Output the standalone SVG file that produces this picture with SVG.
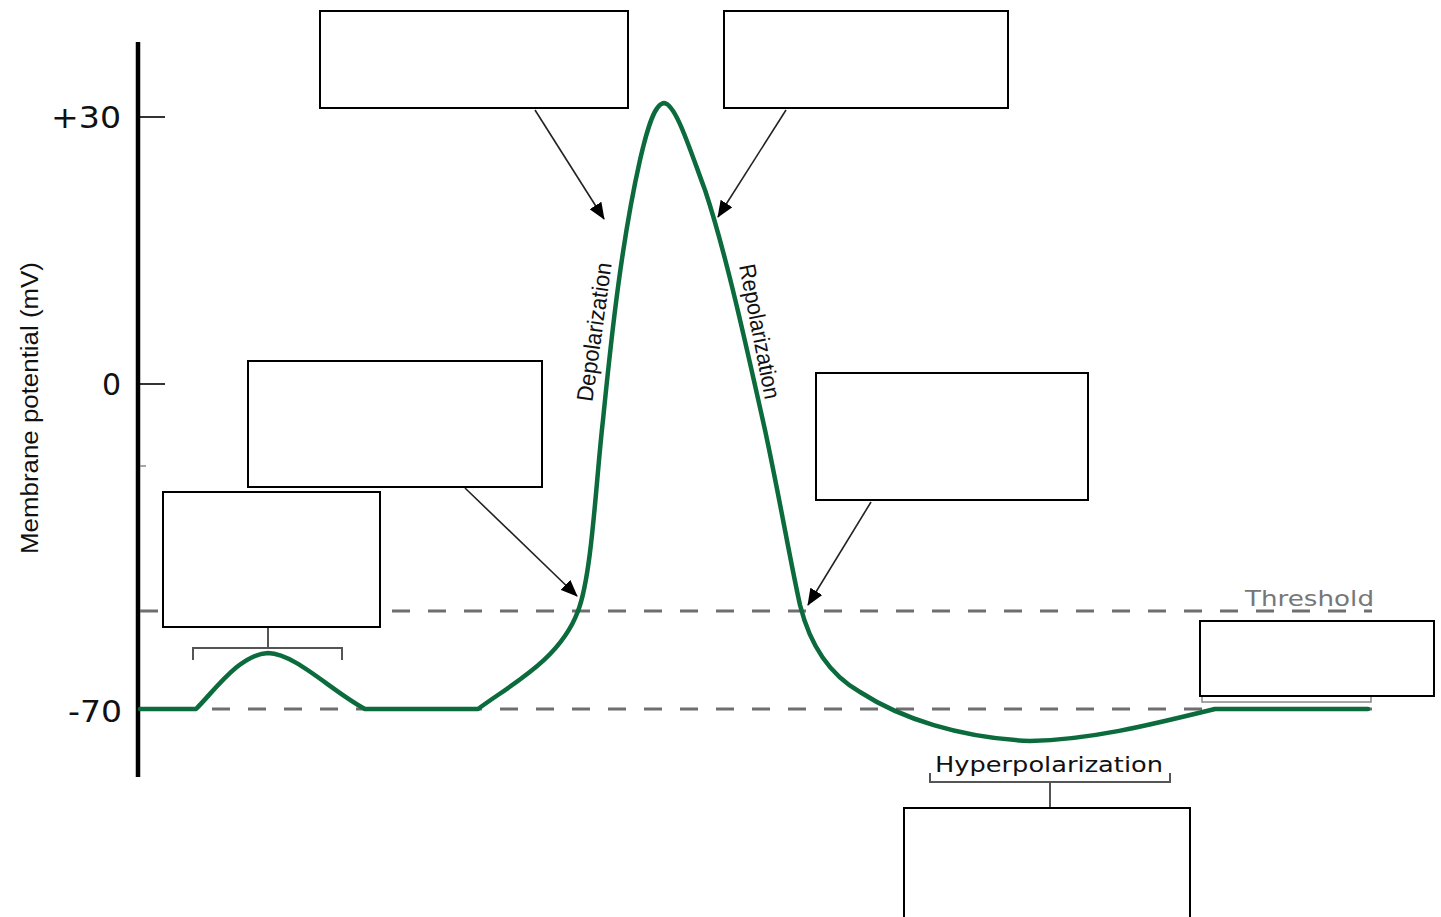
<svg xmlns="http://www.w3.org/2000/svg" width="1441" height="917" viewBox="0 0 1441 917">
<style>
.box{fill:#fff;stroke:#000;stroke-width:2}
.dash{stroke:#6e6e6e;stroke-width:3;stroke-dasharray:18 18;fill:none}
.curve{fill:none;stroke:#0b6b3c;stroke-width:4.5;stroke-linejoin:round;stroke-linecap:round}
.arrow{stroke:#222;stroke-width:1.6;fill:none;marker-end:url(#ah)}
.brk{fill:none;stroke:#555;stroke-width:2}
.ax{font-family:"DejaVu Sans",sans-serif;font-size:30px;fill:#111}
.cond{font-family:"Liberation Sans Narrow","Liberation Sans",sans-serif;font-size:23px;fill:#111}
</style>
<defs>
<marker id="ah" markerWidth="18" markerHeight="14" refX="16" refY="7" orient="auto" markerUnits="userSpaceOnUse">
<path d="M0,0 L17,7 L0,14 Z" fill="#000"/>
</marker>
</defs>
<rect width="1441" height="917" fill="#fff"/>
<g id="axis">
<line x1="138" y1="42" x2="138" y2="777" stroke="#000" stroke-width="4.5"/>
<line x1="138" y1="117" x2="165" y2="117" stroke="#000" stroke-width="1.6"/>
<line x1="138" y1="384" x2="165" y2="384" stroke="#000" stroke-width="1.6"/>
<line x1="140" y1="466" x2="146" y2="466" stroke="#888" stroke-width="1.5"/>
<text class="ax" x="121" y="128" text-anchor="end" textLength="70" lengthAdjust="spacingAndGlyphs">+30</text>
<text class="ax" x="121" y="395" text-anchor="end">0</text>
<text class="ax" x="122" y="722" text-anchor="end" textLength="54" lengthAdjust="spacingAndGlyphs">-70</text>
<text class="cond" transform="translate(38,408) rotate(-90)" text-anchor="middle" font-size="26" textLength="292" lengthAdjust="spacingAndGlyphs">Membrane potential (mV)</text>
</g>
<g id="levels">
<line class="dash" x1="140" y1="611" x2="1372" y2="611"/>
<line class="dash" x1="140" y1="709" x2="1372" y2="709"/>
<text x="1374" y="606" text-anchor="end" font-family="DejaVu Sans,sans-serif" font-size="21" fill="#777" textLength="129" lengthAdjust="spacingAndGlyphs">Threshold</text>
</g>
<g id="trace">
<path class="curve" d="M140,709 L196,709 C215,690 240,654 268,653 C296,654 330,690 365,709 L478,709 C510,685 560,660 578,611 C592,575 596,480 603,420 C612,330 622,240 640,160 C648,125 655,104 664,103 C676,104 690,150 705,190 C725,250 745,340 765,430 C780,500 790,560 800,605 C810,645 830,675 860,692 C900,718 960,738 1030,741 C1090,740 1150,725 1215,709 L1368,709"/>
<text class="cond" transform="translate(602,333) rotate(-82)" text-anchor="middle" textLength="140" lengthAdjust="spacingAndGlyphs">Depolarization</text>
<text class="cond" transform="translate(752,333) rotate(79)" text-anchor="middle" textLength="137" lengthAdjust="spacingAndGlyphs">Repolarization</text>
</g>
<g id="connectors">
<line class="arrow" x1="535" y1="110" x2="604" y2="219"/>
<line class="arrow" x1="786" y1="110" x2="718" y2="217"/>
<line class="arrow" x1="465" y1="488" x2="577" y2="596"/>
<line class="arrow" x1="871" y1="502" x2="808" y2="605"/>
<path class="brk" d="M193,660 V648 H342 V660 M268,648 V628"/>
<path class="brk" d="M930,773 V782 H1170 V773 M1050,782 V808"/>
<path d="M1202,696 V702 H1371 V696" fill="none" stroke="#888" stroke-width="1.5"/>
</g>
<text x="1049" y="772" text-anchor="middle" font-family="DejaVu Sans,sans-serif" font-size="21" fill="#111" textLength="228" lengthAdjust="spacingAndGlyphs">Hyperpolarization</text>
<g id="box1"><rect class="box" x="320" y="11" width="308" height="97"/></g>
<g id="box2"><rect class="box" x="724" y="11" width="284" height="97"/></g>
<g id="box3"><rect class="box" x="248" y="361" width="294" height="126"/></g>
<g id="box4"><rect class="box" x="163" y="492" width="217" height="135"/></g>
<g id="box5"><rect class="box" x="816" y="373" width="272" height="127"/></g>
<g id="box6"><rect class="box" x="1200" y="621" width="234" height="75"/></g>
<g id="box7"><rect class="box" x="904" y="808" width="286" height="115"/></g>
</svg>
